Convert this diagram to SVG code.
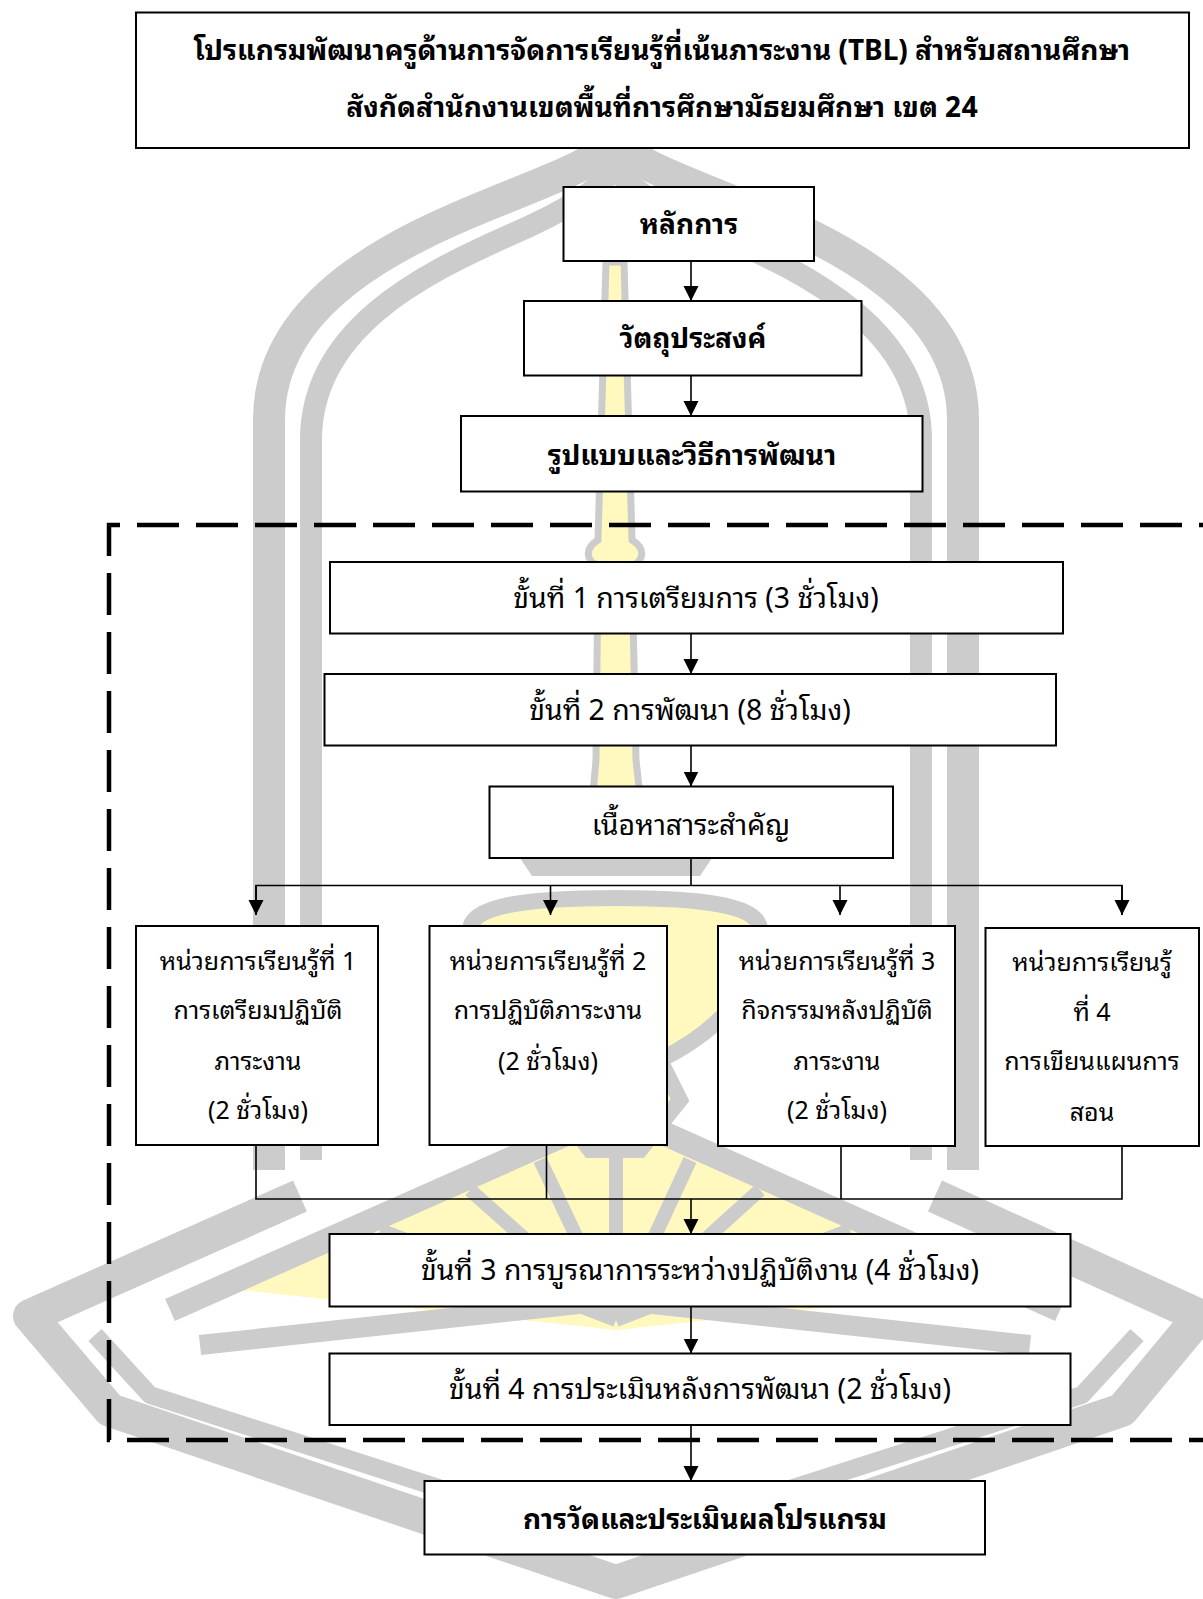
<svg xmlns="http://www.w3.org/2000/svg" width="1203" height="1599" viewBox="0 0 1203 1599">
<style>
.box{fill:#fff;stroke:#000;stroke-width:2}
.t{font-family:'Noto Sans Thai Looped','Noto Sans Thai','Noto Sans',sans-serif;font-size:28.4px;fill:#000;text-anchor:middle;dominant-baseline:central}
.u{font-size:25px}
.b{font-weight:bold;font-size:28px}
.ln{fill:none;stroke:#000;stroke-width:1.6}
.ar{fill:none;stroke:#000;stroke-width:1.6;marker-end:url(#ah)}
.wg{fill:none;stroke:#cccccc;stroke-linejoin:round}
</style>
<defs>
<marker id="ah" markerUnits="userSpaceOnUse" markerWidth="16" markerHeight="16" refX="15" refY="7.5" orient="auto">
<path d="M0,0 L15,7.5 L0,15 z" fill="#000"/>
</marker>
</defs>
<rect width="1203" height="1599" fill="#fff"/>
<g id="watermark">
<path class="wg" stroke-width="32" d="M269 1170 L269 420 C269 300 400 240 500 200 C570 172 600 160 615 140 C630 160 660 172 730 200 C830 240 963 300 963 420 L963 1170"/>
<path class="wg" stroke-width="22" d="M311 1160 L311 440 C311 330 420 275 510 235 C575 207 603 185 615 168 C627 185 655 207 720 235 C810 275 921 330 921 440 L921 1160"/>
<path class="wg" stroke-width="34" d="M300 1196 L30 1316 L110 1410 L616 1582 L1122 1410 L1200 1316 L935 1196"/>
<path class="wg" stroke-width="18" d="M95 1335 L150 1395 L616 1545 L1082 1395 L1137 1335"/>
<path fill="#fff9c0" d="M240 1290 L616 1125 L992 1290 L616 1330 z"/>
<path class="wg" stroke-width="14" d="M380 1230 L616 1320 M470 1190 L616 1320 M540 1160 L616 1320 M616 1130 L616 1320 M690 1160 L616 1320 M760 1190 L616 1320 M850 1230 L616 1320"/>
<path class="wg" stroke-width="24" d="M170 1310 L616 1112 L1060 1310"/>
<path class="wg" stroke-width="20" d="M200 1345 L616 1300 L1030 1345"/>
<path fill="#fff9c0" stroke="#cccccc" stroke-width="7" d="M606 262 L624 262 L632 540 C645 548 645 560 632 566 L636 760 L646 850 L588 850 L596 760 L598 566 C585 560 585 548 598 540 z"/>
<path fill="#cccccc" d="M520 858 L712 858 L700 876 L532 876 z"/>
<path fill="#fff9c0" stroke="#cccccc" stroke-width="16" d="M470 930 C470 905 530 898 616 898 C702 898 760 905 760 930 C760 1000 700 1040 660 1060 L680 1100 L640 1150 L590 1150 L552 1100 L572 1060 C530 1040 470 1000 470 930 z"/>
</g>
<g id="connectors">
<line class="ar" x1="691" y1="261" x2="691" y2="301"/>
<line class="ar" x1="691" y1="375.5" x2="691" y2="416"/>
<line class="ar" x1="691" y1="633.5" x2="691" y2="674"/>
<line class="ar" x1="691" y1="745.5" x2="691" y2="786.5"/>
<polyline class="ln" points="691,858 691,885.5"/>
<polyline class="ln" points="256,915 256,885.5 1122,885.5 1122,915"/>
<line class="ar" x1="256" y1="885.5" x2="256" y2="915"/>
<line class="ar" x1="550.5" y1="885.5" x2="550.5" y2="915"/>
<line class="ar" x1="840" y1="885.5" x2="840" y2="915"/>
<line class="ar" x1="1122" y1="885.5" x2="1122" y2="915"/>
<polyline class="ln" points="256,1145 256,1199 1122,1199 1122,1146"/>
<line class="ln" x1="546.5" y1="1145" x2="546.5" y2="1199"/>
<line class="ln" x1="841" y1="1146" x2="841" y2="1199"/>
<line class="ar" x1="691" y1="1199" x2="691" y2="1234"/>
<line class="ar" x1="691" y1="1306.5" x2="691" y2="1353.5"/>
<line class="ar" x1="691" y1="1425" x2="691" y2="1481"/>
</g>
<path id="phase-frame" d="M1203 525 L109 525 L109 1440 L1203 1440" fill="none" stroke="#000" stroke-width="4.5" stroke-dasharray="42 17" stroke-dashoffset="38"/>
<g id="title">
<rect class="box" x="136" y="12.5" width="1053" height="135.5"/>
<text class="t b" x="662" y="47">โปรแกรมพัฒนาครูด้านการจัดการเรียนรู้ที่เน้นภาระงาน (TBL) สำหรับสถานศึกษา</text>
<text class="t b" x="662" y="104">สังกัดสำนักงานเขตพื้นที่การศึกษามัธยมศึกษา เขต 24</text>
</g>
<g id="principle">
<rect class="box" x="563.5" y="187" width="250.5" height="74"/>
<text class="t b" x="689" y="221">หลักการ</text>
</g>
<g id="objective">
<rect class="box" x="524" y="301" width="337.5" height="74.5"/>
<text class="t b" x="693" y="335">วัตถุประสงค์</text>
</g>
<g id="method">
<rect class="box" x="461" y="416" width="461.5" height="75.5"/>
<text class="t b" x="692" y="452">รูปแบบและวิธีการพัฒนา</text>
</g>
<g id="step1">
<rect class="box" x="330" y="562" width="733" height="71.5"/>
<text class="t" x="696" y="595">ขั้นที่ 1 การเตรียมการ (3 ชั่วโมง)</text>
</g>
<g id="step2">
<rect class="box" x="324.5" y="674" width="731.5" height="71.5"/>
<text class="t" x="690" y="707">ขั้นที่ 2 การพัฒนา (8 ชั่วโมง)</text>
</g>
<g id="content">
<rect class="box" x="489.5" y="786.5" width="403.5" height="71.5"/>
<text class="t" x="691" y="822">เนื้อหาสาระสำคัญ</text>
</g>
<g id="unit1">
<rect class="box" x="136" y="926" width="242" height="219"/>
<text class="t u" x="258" y="959">หน่วยการเรียนรู้ที่ 1</text>
<text class="t u" x="258" y="1008">การเตรียมปฏิบัติ</text>
<text class="t u" x="258" y="1059">ภาระงาน</text>
<text class="t u" x="258" y="1108">(2 ชั่วโมง)</text>
</g>
<g id="unit2">
<rect class="box" x="429.5" y="926" width="237.5" height="219"/>
<text class="t u" x="548" y="959">หน่วยการเรียนรู้ที่ 2</text>
<text class="t u" x="548" y="1008">การปฏิบัติภาระงาน</text>
<text class="t u" x="548" y="1059">(2 ชั่วโมง)</text>
</g>
<g id="unit3">
<rect class="box" x="718" y="926" width="237" height="220"/>
<text class="t u" x="837" y="959">หน่วยการเรียนรู้ที่ 3</text>
<text class="t u" x="837" y="1008">กิจกรรมหลังปฏิบัติ</text>
<text class="t u" x="837" y="1059">ภาระงาน</text>
<text class="t u" x="837" y="1108">(2 ชั่วโมง)</text>
</g>
<g id="unit4">
<rect class="box" x="985.5" y="928" width="213.5" height="218"/>
<text class="t u" x="1092" y="960">หน่วยการเรียนรู้</text>
<text class="t u" x="1092" y="1010">ที่ 4</text>
<text class="t u" x="1092" y="1059">การเขียนแผนการ</text>
<text class="t u" x="1092" y="1110">สอน</text>
</g>
<g id="step3">
<rect class="box" x="329.5" y="1234" width="741" height="72.5"/>
<text class="t" x="700" y="1267">ขั้นที่ 3 การบูรณาการระหว่างปฏิบัติงาน (4 ชั่วโมง)</text>
</g>
<g id="step4">
<rect class="box" x="329.5" y="1353.5" width="741" height="71.5"/>
<text class="t" x="700" y="1386">ขั้นที่ 4 การประเมินหลังการพัฒนา (2 ชั่วโมง)</text>
</g>
<g id="evaluation">
<rect class="box" x="424.5" y="1481" width="560.5" height="73.5"/>
<text class="t b" x="705" y="1516">การวัดและประเมินผลโปรแกรม</text>
</g>
</svg>
